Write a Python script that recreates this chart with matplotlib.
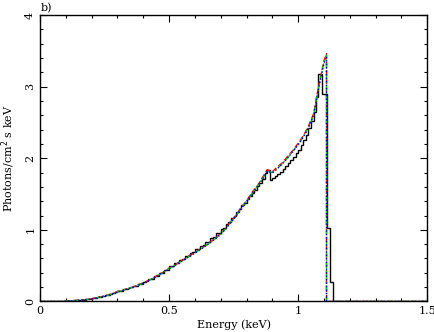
import matplotlib
matplotlib.use('Agg')
import matplotlib.pyplot as plt
import matplotlib.ticker as ticker
import numpy as np

# Model curves (red / green / blue): energy (keV) and flux
energy_model = [0.10, 0.12, 0.14, 0.16, 0.18, 0.20, 0.22, 0.24, 0.26, 0.28,
                0.30, 0.32, 0.34, 0.36, 0.38, 0.40, 0.42, 0.44, 0.46, 0.48,
                0.50, 0.52, 0.54, 0.56, 0.58, 0.60, 0.62, 0.64, 0.66, 0.68,
                0.70, 0.72, 0.74, 0.76, 0.78, 0.80, 0.82, 0.84, 0.86, 0.88,
                0.90, 0.92, 0.94, 0.96, 0.98, 1.00, 1.02, 1.04, 1.06, 1.08,
                1.10, 1.11]

flux_red = [0.006, 0.010, 0.016, 0.020, 0.029, 0.038, 0.054, 0.068, 0.088, 0.108,
            0.140, 0.155, 0.182, 0.200, 0.235, 0.258, 0.295, 0.328, 0.378, 0.413,
            0.465, 0.500, 0.555, 0.590, 0.645, 0.680, 0.735, 0.775, 0.835, 0.880,
            0.955, 1.020, 1.125, 1.200, 1.320, 1.400, 1.520, 1.600, 1.720, 1.840,
            1.810, 1.880, 1.940, 2.030, 2.110, 2.210, 2.310, 2.450, 2.620, 3.020,
            3.360, 3.460]

flux_green = [0.005, 0.010, 0.014, 0.020, 0.027, 0.037, 0.052, 0.067, 0.085, 0.106,
              0.134, 0.154, 0.178, 0.199, 0.228, 0.256, 0.290, 0.326, 0.370, 0.412,
              0.458, 0.498, 0.545, 0.588, 0.635, 0.678, 0.725, 0.773, 0.825, 0.878,
              0.940, 1.018, 1.110, 1.198, 1.300, 1.398, 1.500, 1.598, 1.700, 1.818,
              1.800, 1.858, 1.930, 2.008, 2.100, 2.188, 2.300, 2.428, 2.600, 3.000,
              3.340, 3.440]

flux_blue = [0.005, 0.009, 0.014, 0.019, 0.026, 0.036, 0.051, 0.066, 0.084, 0.105,
             0.132, 0.152, 0.176, 0.198, 0.226, 0.254, 0.288, 0.324, 0.368, 0.410,
             0.455, 0.496, 0.542, 0.586, 0.632, 0.676, 0.722, 0.770, 0.822, 0.875,
             0.936, 1.015, 1.106, 1.195, 1.296, 1.395, 1.496, 1.595, 1.696, 1.812,
             1.796, 1.855, 1.926, 2.004, 2.096, 2.184, 2.296, 2.424, 2.596, 2.990,
             3.320, 3.420]

# Black histogram: 0.01 keV channels from 0.09 to 1.07 keV, then a wider tail
black_grid = (0.09, 1.07, 0.01)
black_tail_edges = [1.078, 1.093, 1.111, 1.124, 1.137]

flux_black = [0.003, 0.005, 0.007, 0.010, 0.012, 0.015, 0.018, 0.022, 0.026, 0.031,
              0.036, 0.043, 0.050, 0.056, 0.066, 0.072, 0.084, 0.090, 0.106, 0.112,
              0.132, 0.140, 0.150, 0.168, 0.172, 0.192, 0.196, 0.218, 0.220, 0.246,
              0.250, 0.278, 0.282, 0.312, 0.318, 0.352, 0.360, 0.395, 0.400, 0.440,
              0.445, 0.490, 0.492, 0.535, 0.540, 0.585, 0.588, 0.630, 0.636, 0.680,
              0.684, 0.730, 0.732, 0.778, 0.782, 0.832, 0.836, 0.890, 0.895, 0.950,
              0.955, 1.010, 1.030, 1.080, 1.110, 1.160, 1.200, 1.250, 1.290, 1.340,
              1.380, 1.430, 1.470, 1.520, 1.560, 1.610, 1.650, 1.710, 1.790, 1.830,
              1.700, 1.720, 1.750, 1.780, 1.810, 1.850, 1.890, 1.930, 1.970, 2.020,
              2.070, 2.120, 2.180, 2.250, 2.330, 2.420, 2.520, 2.640]
flux_black_tail = [2.850, 3.180, 2.900, 1.030, 0.270]

x_range = (0.0, 1.5)
y_range = (0.0, 4.0)
panel_label = 'b)'

fig = plt.figure(figsize=(4.35, 3.32), dpi=100)
ax = fig.add_axes([0.092, 0.092, 0.890, 0.863])

# black step histogram
lo, hi, step = black_grid
n_fine = int(round((hi - lo) / step))
edges_black = list(np.round(np.linspace(lo, hi, n_fine + 1), 3)) + black_tail_edges
vals_black = flux_black + flux_black_tail
e = [x_range[0]] + edges_black + [x_range[1]]
v = [0.0] + vals_black + [0.0]
ax.stairs(v, e, baseline=None, color='black', linestyle='-', linewidth=1.0)

# model curves: zero before the first channel, sharp drop after the edge
first_edge = black_grid[0]
models = [
    (flux_red, 'red', (0, (4, 2))),
    (flux_green, '#00cc00', (0, (4, 1.5, 1, 1.5))),
    (flux_blue, 'blue', (0, (1, 1.5))),
]
for vals, color, ls in models:
    xs = [x_range[0], first_edge] + energy_model + [energy_model[-1], x_range[1]]
    ys = [0.0, 0.0] + vals + [0.0, 0.0]
    ax.plot(xs, ys, color=color, linestyle=ls, linewidth=1.0)

ax.set_xlim(*x_range)
ax.set_ylim(*y_range)

font = {'family': 'DejaVu Serif', 'size': 8}
ax.set_xlabel('Energy (keV)', fontdict=font, labelpad=2)
ax.set_ylabel('Photons/cm$^2$ s keV', fontdict=font, labelpad=6)

ax.xaxis.set_major_locator(ticker.FixedLocator([0, 0.5, 1, 1.5]))
ax.xaxis.set_minor_locator(ticker.MultipleLocator(0.1))
ax.yaxis.set_major_locator(ticker.MultipleLocator(1))
ax.yaxis.set_minor_locator(ticker.MultipleLocator(0.2))
ax.xaxis.set_major_formatter(ticker.FuncFormatter(lambda v, p: f'{v:g}'))
ax.yaxis.set_major_formatter(ticker.FuncFormatter(lambda v, p: f'{v:g}'))

ax.tick_params(which='both', direction='in', top=True, right=True,
               labelsize=8, width=0.8)
ax.tick_params(which='major', length=5)
ax.tick_params(which='minor', length=2.5)
for lab in ax.get_xticklabels() + ax.get_yticklabels():
    lab.set_family('DejaVu Serif')
for lab in ax.get_yticklabels():
    lab.set_rotation(90)
    lab.set_va('center')
for sp in ax.spines.values():
    sp.set_linewidth(1.0)

fig.text(0.094, 0.975, panel_label, fontdict=font, ha='left', va='center')

fig.savefig('out.png', dpi=100)
